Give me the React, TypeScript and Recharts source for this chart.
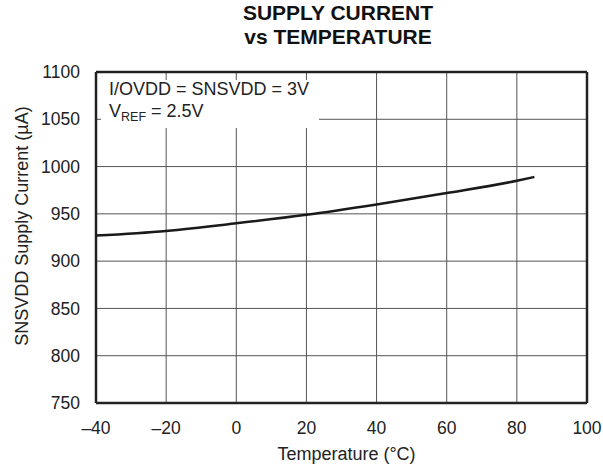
import React from 'react';
import { LineChart, Line, XAxis, YAxis, CartesianGrid, ReferenceLine, Label } from 'recharts';

// Supply current vs temperature
const temps = [-40, -20, 0, 20, 40, 60, 80, 85];
const current = [927, 932, 940, 949, 960, 972, 985, 989];

const xTicks = [-40, -20, 0, 20, 40, 60, 80, 100];
const yTicks = [750, 800, 850, 900, 950, 1000, 1050, 1100];

const FONT = '"Liberation Sans", Arial, sans-serif';
const INK = '#222';

const data = temps.map((t, i) => ({ t, i: current[i] }));

// datasheets use an en dash for negative numbers
const fmtX = (v: number) => (v < 0 ? `\u2013${Math.abs(v)}` : `${v}`);

export default function App() {
  return (
    <div style={{ position: 'absolute', left: 0, top: 0, width: 603, height: 468, background: '#fff', fontFamily: FONT }}>
      <div
        style={{
          position: 'absolute',
          left: 238,
          top: 1,
          width: 200,
          textAlign: 'center',
          fontWeight: 'bold',
          fontSize: 21,
          lineHeight: '24px',
          color: '#111',
        }}
      >
        SUPPLY CURRENT
        <br />
        vs TEMPERATURE
      </div>

      <LineChart width={603} height={468} data={data} margin={{ top: 72, right: 16, bottom: 0, left: 0 }}>
        <CartesianGrid stroke="#555" strokeWidth={1} />
        <XAxis
          dataKey="t"
          type="number"
          domain={[-40, 100]}
          ticks={xTicks}
          tickFormatter={fmtX}
          axisLine={false}
          tickLine={false}
          tickSize={0}
          tickMargin={19}
          height={65}
          tick={{ fill: INK, fontSize: 17.5, fontFamily: FONT }}
        >
          <Label
            content={({ viewBox }: any) => (
              <text
                x={viewBox.x + viewBox.width / 2 + 5}
                y={viewBox.y + viewBox.height - 8}
                textAnchor="middle"
                fill={INK}
                fontSize={18}
                fontFamily={FONT}
              >
                Temperature (°C)
              </text>
            )}
          />
        </XAxis>
        <YAxis
          type="number"
          domain={[750, 1100]}
          ticks={yTicks}
          axisLine={false}
          tickLine={false}
          tickSize={0}
          tickMargin={16}
          width={96}
          tick={{ fill: INK, fontSize: 17.5, fontFamily: FONT }}
        >
          <Label
            content={() => (
              <text
                x={28}
                y={226}
                transform="rotate(-90 28 226)"
                textAnchor="middle"
                fill={INK}
                fontSize={18}
                fontFamily={FONT}
              >
                SNSVDD Supply Current (µA)
              </text>
            )}
          />
        </YAxis>

        {/* plot frame */}
        <ReferenceLine x={-40} stroke={INK} strokeWidth={2.5} />
        <ReferenceLine x={100} stroke={INK} strokeWidth={2.5} />
        <ReferenceLine y={750} stroke={INK} strokeWidth={2.5} />
        <ReferenceLine y={1100} stroke={INK} strokeWidth={2.5} />

        <Line
          type="monotone"
          dataKey="i"
          stroke="#1a1a1a"
          strokeWidth={2.5}
          dot={false}
          isAnimationActive={false}
        />
      </LineChart>

      <div
        style={{
          position: 'absolute',
          left: 101,
          top: 80,
          width: 218,
          height: 48,
          background: '#fff',
          color: INK,
          fontSize: 18,
          lineHeight: '22px',
          paddingLeft: 8,
          boxSizing: 'border-box',
        }}
      >
        <div style={{ position: 'relative', top: -2 }}>
          <div>I/OVDD = SNSVDD = 3V</div>
          <div>
            V<sub style={{ fontSize: 12.5, verticalAlign: 'baseline', position: 'relative', top: 4 }}>REF</sub> = 2.5V
          </div>
        </div>
      </div>
    </div>
  );
}
